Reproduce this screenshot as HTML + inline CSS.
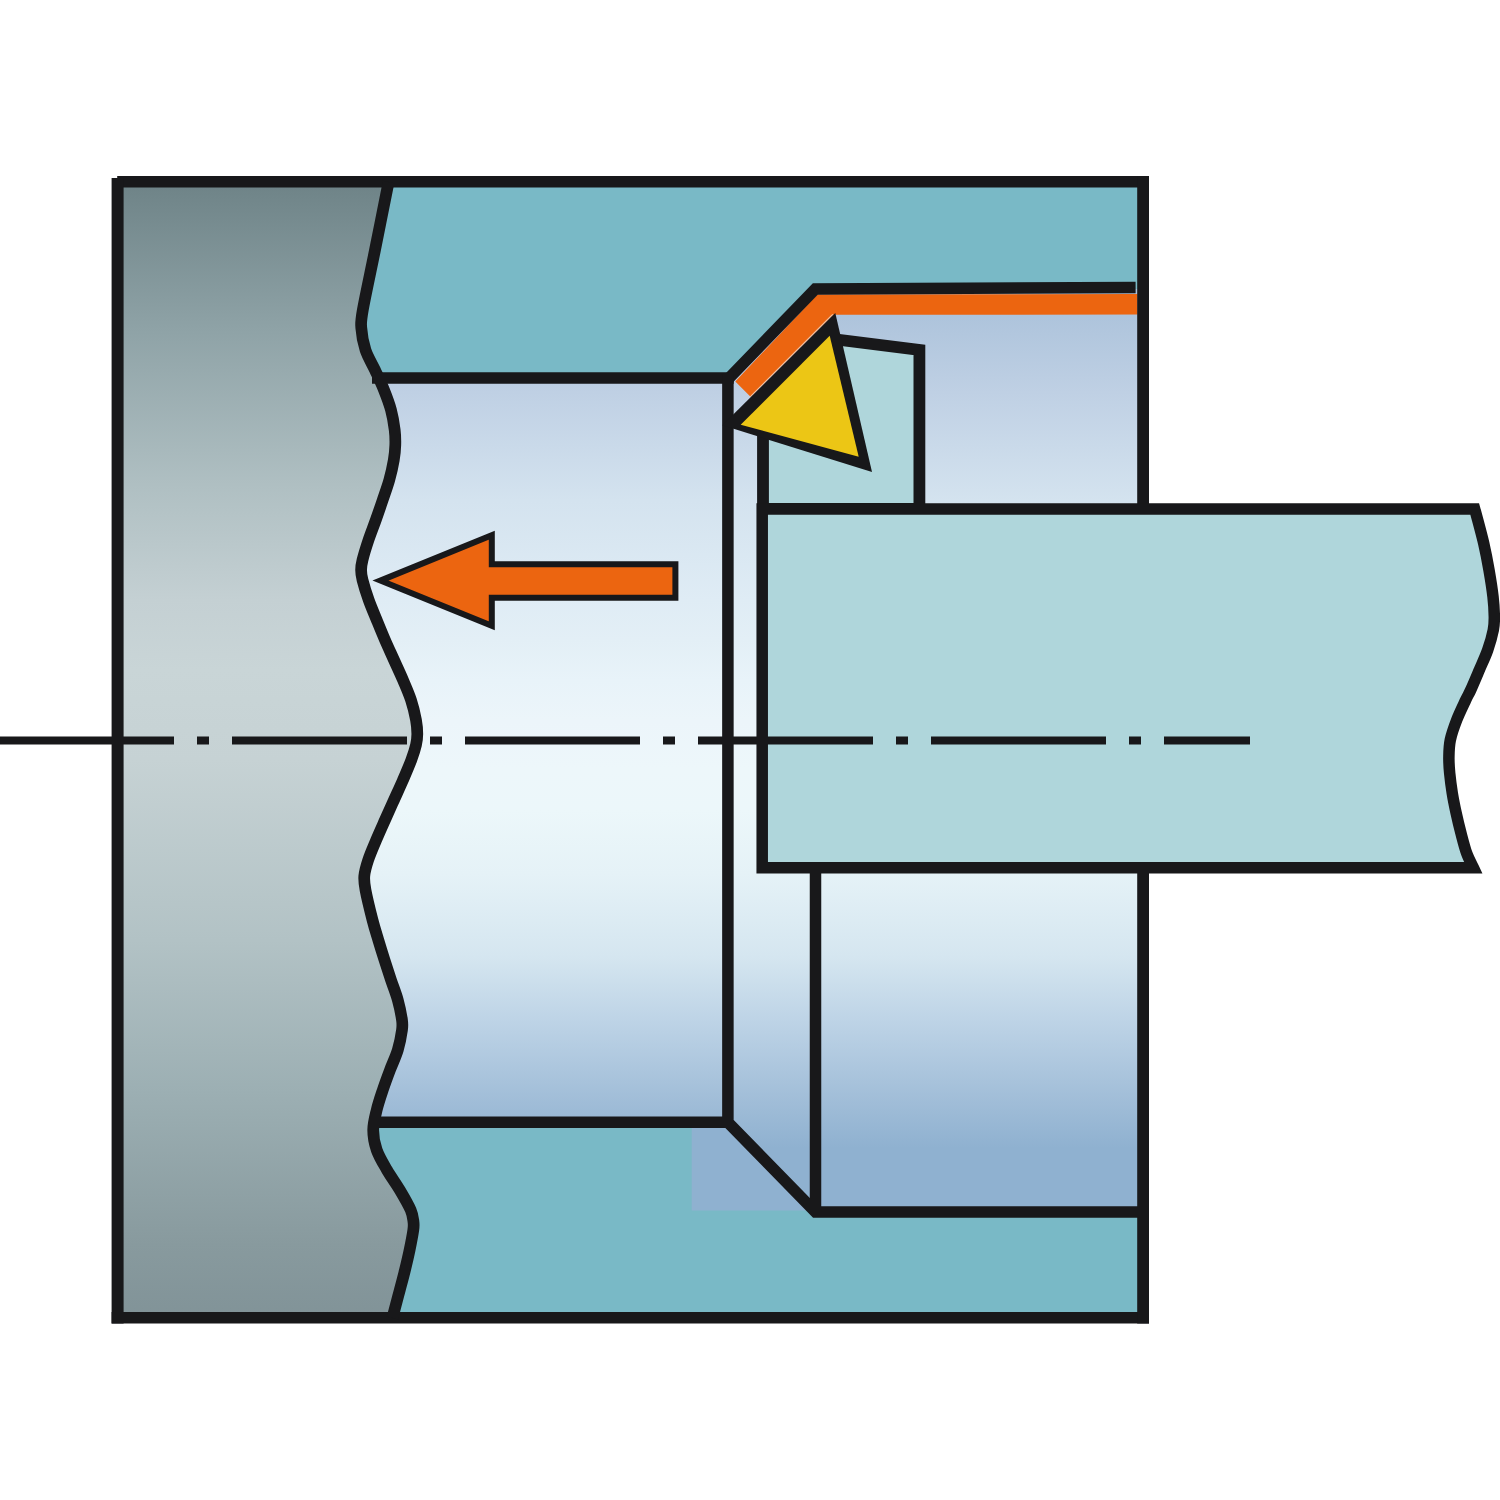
<!DOCTYPE html>
<html><head><meta charset="utf-8"><title>Boring operation</title>
<style>html,body{margin:0;padding:0;background:#fff;font-family:"Liberation Sans",sans-serif;}svg{display:block}</style>
</head><body>
<svg width="1500" height="1500" viewBox="0 0 1500 1500">
<defs>
<linearGradient id="gGray" x1="0" y1="182" x2="0" y2="1318" gradientUnits="userSpaceOnUse">
<stop offset="0.0000" stop-color="#6e8387"/>
<stop offset="0.1320" stop-color="#8fa3a7"/>
<stop offset="0.2658" stop-color="#afbfc2"/>
<stop offset="0.3680" stop-color="#c4d0d3"/>
<stop offset="0.4296" stop-color="#c9d5d7"/>
<stop offset="0.5088" stop-color="#c6d2d4"/>
<stop offset="0.6673" stop-color="#b2c2c5"/>
<stop offset="0.8011" stop-color="#9cafb3"/>
<stop offset="0.9349" stop-color="#889a9e"/>
<stop offset="1.0000" stop-color="#819398"/>
</linearGradient>
<linearGradient id="gBore" x1="0" y1="289" x2="0" y2="1213" gradientUnits="userSpaceOnUse">
<stop offset="0.0000" stop-color="#a9bfd9"/>
<stop offset="0.0303" stop-color="#aec4dc"/>
<stop offset="0.1115" stop-color="#bfd0e4"/>
<stop offset="0.2294" stop-color="#d4e3ef"/>
<stop offset="0.3366" stop-color="#dfecf5"/>
<stop offset="0.3799" stop-color="#e3eff6"/>
<stop offset="0.4232" stop-color="#e8f3f9"/>
<stop offset="0.4665" stop-color="#ecf5fa"/>
<stop offset="0.5206" stop-color="#edf7fa"/>
<stop offset="0.5639" stop-color="#ecf7fa"/>
<stop offset="0.6331" stop-color="#e5f2f7"/>
<stop offset="0.7219" stop-color="#d5e6f0"/>
<stop offset="0.7933" stop-color="#bdd3e6"/>
<stop offset="0.8712" stop-color="#a3bfd9"/>
<stop offset="0.9297" stop-color="#8fb1d0"/>
<stop offset="1.0000" stop-color="#8fb1d0"/>
</linearGradient>
</defs>
<rect width="1500" height="1500" fill="#ffffff"/>
<!-- workpiece -->
<rect x="117.6" y="181.8" width="1025.5" height="1136" fill="#79b9c6"/>
<!-- bore gradient -->
<rect x="691.7" y="1125" width="125" height="85.5" fill="#8fb1d0"/>
<path d="M340,378 L728,378 L815.5,289 L1143,289 L1143,1212 L815.5,1212 L728,1122.3 L340,1122.3 Z" fill="url(#gBore)"/>

<!-- gray cut region -->
<path d="M388.60,182.00 C386.33,193.33 379.30,228.67 375.00,250.00 C370.70,271.33 365.08,297.00 362.80,310.00 C360.52,323.00 360.85,321.33 361.30,328.00 C361.75,334.67 363.22,343.00 365.50,350.00 C367.78,357.00 371.92,363.33 375.00,370.00 C378.08,376.67 381.33,383.33 384.00,390.00 C386.67,396.67 389.22,403.33 391.00,410.00 C392.78,416.67 393.98,424.17 394.70,430.00 C395.42,435.83 395.45,440.00 395.30,445.00 C395.15,450.00 394.80,454.17 393.80,460.00 C392.80,465.83 391.15,473.33 389.30,480.00 C387.45,486.67 384.95,493.33 382.70,500.00 C380.45,506.67 378.17,513.33 375.80,520.00 C373.43,526.67 370.72,533.33 368.50,540.00 C366.28,546.67 363.73,555.00 362.50,560.00 C361.27,565.00 361.10,566.67 361.10,570.00 C361.10,573.33 361.23,575.00 362.50,580.00 C363.77,585.00 366.33,593.33 368.70,600.00 C371.07,606.67 373.98,613.33 376.70,620.00 C379.42,626.67 382.12,633.33 385.00,640.00 C387.88,646.67 391.00,653.33 394.00,660.00 C397.00,666.67 400.17,673.33 403.00,680.00 C405.83,686.67 408.83,693.33 411.00,700.00 C413.17,706.67 414.95,714.33 416.00,720.00 C417.05,725.67 417.30,729.83 417.30,734.00 C417.30,738.17 417.00,740.67 416.00,745.00 C415.00,749.33 413.47,754.17 411.30,760.00 C409.13,765.83 405.88,773.33 403.00,780.00 C400.12,786.67 397.00,793.33 394.00,800.00 C391.00,806.67 387.97,813.33 385.00,820.00 C382.03,826.67 379.00,833.33 376.20,840.00 C373.40,846.67 370.18,854.00 368.20,860.00 C366.22,866.00 364.75,871.00 364.30,876.00 C363.85,881.00 364.13,882.67 365.50,890.00 C366.87,897.33 370.37,911.67 372.50,920.00 C374.63,928.33 376.30,933.33 378.30,940.00 C380.30,946.67 382.38,953.33 384.50,960.00 C386.62,966.67 388.78,973.33 391.00,980.00 C393.22,986.67 395.97,993.33 397.80,1000.00 C399.63,1006.67 401.30,1015.00 402.00,1020.00 C402.70,1025.00 402.70,1025.00 402.00,1030.00 C401.30,1035.00 399.80,1043.33 397.80,1050.00 C395.80,1056.67 392.50,1063.33 390.00,1070.00 C387.50,1076.67 385.02,1083.33 382.80,1090.00 C380.58,1096.67 378.30,1103.33 376.70,1110.00 C375.10,1116.67 373.20,1123.33 373.20,1130.00 C373.20,1136.67 374.40,1143.33 376.70,1150.00 C379.00,1156.67 383.15,1163.33 387.00,1170.00 C390.85,1176.67 395.85,1183.33 399.80,1190.00 C403.75,1196.67 408.42,1204.67 410.70,1210.00 C412.98,1215.33 413.07,1218.67 413.50,1222.00 C413.93,1225.33 413.95,1225.33 413.30,1230.00 C412.65,1234.67 410.98,1243.33 409.60,1250.00 C408.22,1256.67 406.63,1263.33 405.00,1270.00 C403.37,1276.67 401.55,1283.33 399.80,1290.00 C398.05,1296.67 395.73,1305.33 394.50,1310.00 C393.27,1314.67 392.75,1316.67 392.40,1318.00 L117.6,1318 L117.6,182 Z" fill="url(#gGray)"/>
<!-- orange band -->
<path d="M1137.5,294 L817.3,294.5 L735.3,381.5 L750.8,396.9 L833.3,314.7 L1137.5,314.6 Z" fill="#ec6510"/>
<!-- outlines -->
<g fill="none" stroke="#18181a" stroke-width="11.5" stroke-linejoin="miter" stroke-linecap="butt">
<path d="M117.2,181.8 L1149,181.8" stroke-width="11.6"/>
<path d="M117.6,178 L117.6,1323.6" stroke-width="12"/>
<path d="M111.6,1317.8 L1149,1317.8" stroke-width="11.6"/>
<path d="M1143.1,176 L1143.1,509 M1143.1,867 L1143.1,1323.6" stroke-width="11.8"/>
<path d="M388.60,182.00 C386.33,193.33 379.30,228.67 375.00,250.00 C370.70,271.33 365.08,297.00 362.80,310.00 C360.52,323.00 360.85,321.33 361.30,328.00 C361.75,334.67 363.22,343.00 365.50,350.00 C367.78,357.00 371.92,363.33 375.00,370.00 C378.08,376.67 381.33,383.33 384.00,390.00 C386.67,396.67 389.22,403.33 391.00,410.00 C392.78,416.67 393.98,424.17 394.70,430.00 C395.42,435.83 395.45,440.00 395.30,445.00 C395.15,450.00 394.80,454.17 393.80,460.00 C392.80,465.83 391.15,473.33 389.30,480.00 C387.45,486.67 384.95,493.33 382.70,500.00 C380.45,506.67 378.17,513.33 375.80,520.00 C373.43,526.67 370.72,533.33 368.50,540.00 C366.28,546.67 363.73,555.00 362.50,560.00 C361.27,565.00 361.10,566.67 361.10,570.00 C361.10,573.33 361.23,575.00 362.50,580.00 C363.77,585.00 366.33,593.33 368.70,600.00 C371.07,606.67 373.98,613.33 376.70,620.00 C379.42,626.67 382.12,633.33 385.00,640.00 C387.88,646.67 391.00,653.33 394.00,660.00 C397.00,666.67 400.17,673.33 403.00,680.00 C405.83,686.67 408.83,693.33 411.00,700.00 C413.17,706.67 414.95,714.33 416.00,720.00 C417.05,725.67 417.30,729.83 417.30,734.00 C417.30,738.17 417.00,740.67 416.00,745.00 C415.00,749.33 413.47,754.17 411.30,760.00 C409.13,765.83 405.88,773.33 403.00,780.00 C400.12,786.67 397.00,793.33 394.00,800.00 C391.00,806.67 387.97,813.33 385.00,820.00 C382.03,826.67 379.00,833.33 376.20,840.00 C373.40,846.67 370.18,854.00 368.20,860.00 C366.22,866.00 364.75,871.00 364.30,876.00 C363.85,881.00 364.13,882.67 365.50,890.00 C366.87,897.33 370.37,911.67 372.50,920.00 C374.63,928.33 376.30,933.33 378.30,940.00 C380.30,946.67 382.38,953.33 384.50,960.00 C386.62,966.67 388.78,973.33 391.00,980.00 C393.22,986.67 395.97,993.33 397.80,1000.00 C399.63,1006.67 401.30,1015.00 402.00,1020.00 C402.70,1025.00 402.70,1025.00 402.00,1030.00 C401.30,1035.00 399.80,1043.33 397.80,1050.00 C395.80,1056.67 392.50,1063.33 390.00,1070.00 C387.50,1076.67 385.02,1083.33 382.80,1090.00 C380.58,1096.67 378.30,1103.33 376.70,1110.00 C375.10,1116.67 373.20,1123.33 373.20,1130.00 C373.20,1136.67 374.40,1143.33 376.70,1150.00 C379.00,1156.67 383.15,1163.33 387.00,1170.00 C390.85,1176.67 395.85,1183.33 399.80,1190.00 C403.75,1196.67 408.42,1204.67 410.70,1210.00 C412.98,1215.33 413.07,1218.67 413.50,1222.00 C413.93,1225.33 413.95,1225.33 413.30,1230.00 C412.65,1234.67 410.98,1243.33 409.60,1250.00 C408.22,1256.67 406.63,1263.33 405.00,1270.00 C403.37,1276.67 401.55,1283.33 399.80,1290.00 C398.05,1296.67 395.73,1305.33 394.50,1310.00 C393.27,1314.67 392.75,1316.67 392.40,1318.00" stroke-width="11.7" stroke-linejoin="round"/>
<path d="M372,378.1 L733.7,378.1"/>
<path d="M1135.6,287.6 L815.3,289 L728.2,379"/>
<path d="M727.9,374 L727.9,1122.3 L815.5,1212.1 L1143,1212.1"/>
<path d="M372,1122.3 L728,1122.3"/>
<path d="M815.5,867 L815.5,1212.1"/>
</g>
<!-- tool head -->
<path d="M763,509 L763,430 L840,339.9 L919.4,350 L919.4,509 Z" fill="#afd6db" stroke="#18181a" stroke-width="11.8" stroke-linejoin="miter"/>
<!-- bar -->
<path d="M762.2,509 L1474.70,509.00 C1474.97,509.95 1474.80,508.98 1476.30,514.70 C1477.80,520.42 1481.58,534.08 1483.70,543.30 C1485.82,552.52 1487.45,561.10 1489.00,570.00 C1490.55,578.90 1492.12,588.92 1493.00,596.70 C1493.88,604.48 1494.25,611.15 1494.30,616.70 C1494.35,622.25 1494.40,624.45 1493.30,630.00 C1492.20,635.55 1490.03,643.33 1487.70,650.00 C1485.37,656.67 1482.13,663.33 1479.30,670.00 C1476.47,676.67 1472.97,685.00 1470.70,690.00 C1468.43,695.00 1468.03,695.00 1465.70,700.00 C1463.37,705.00 1459.27,713.33 1456.70,720.00 C1454.13,726.67 1451.60,733.78 1450.30,740.00 C1449.00,746.22 1449.00,751.75 1448.90,757.30 C1448.80,762.85 1449.13,767.30 1449.70,773.30 C1450.27,779.30 1451.22,786.63 1452.30,793.30 C1453.38,799.97 1454.75,806.63 1456.20,813.30 C1457.65,819.97 1459.25,826.63 1461.00,833.30 C1462.75,839.97 1464.63,847.57 1466.70,853.30 C1468.77,859.03 1472.28,865.30 1473.40,867.70 L762.2,867.7 Z" fill="#afd6db" stroke="#18181a" stroke-width="11.5" stroke-linejoin="miter" stroke-miterlimit="10"/>
<!-- insert -->
<path d="M832.6,314.2 L750.2,396.6" fill="none" stroke="#f6e3d6" stroke-width="0.9"/>
<path d="M835.3,313 L722.4,425.3 L872,472 Z" fill="#18181a"/>
<path d="M829.7,335.7 L740.7,424.7 L858.7,456.7 Z" fill="#ecc615"/>
<!-- arrow -->
<path d="M380.4,580.6 L491.8,535.3 L491.8,564.2 L675.4,564.2 L675.4,597.8 L491.8,597.8 L491.8,625.9 Z" fill="#ec6510" stroke="#18181a" stroke-width="6" stroke-linejoin="miter" stroke-miterlimit="10"/>
<!-- centre line -->
<path d="M-1,740.5 L1250,740.5" fill="none" stroke="#18181a" stroke-width="8" stroke-dasharray="175 23 12 23"/>
</svg>
</body></html>
